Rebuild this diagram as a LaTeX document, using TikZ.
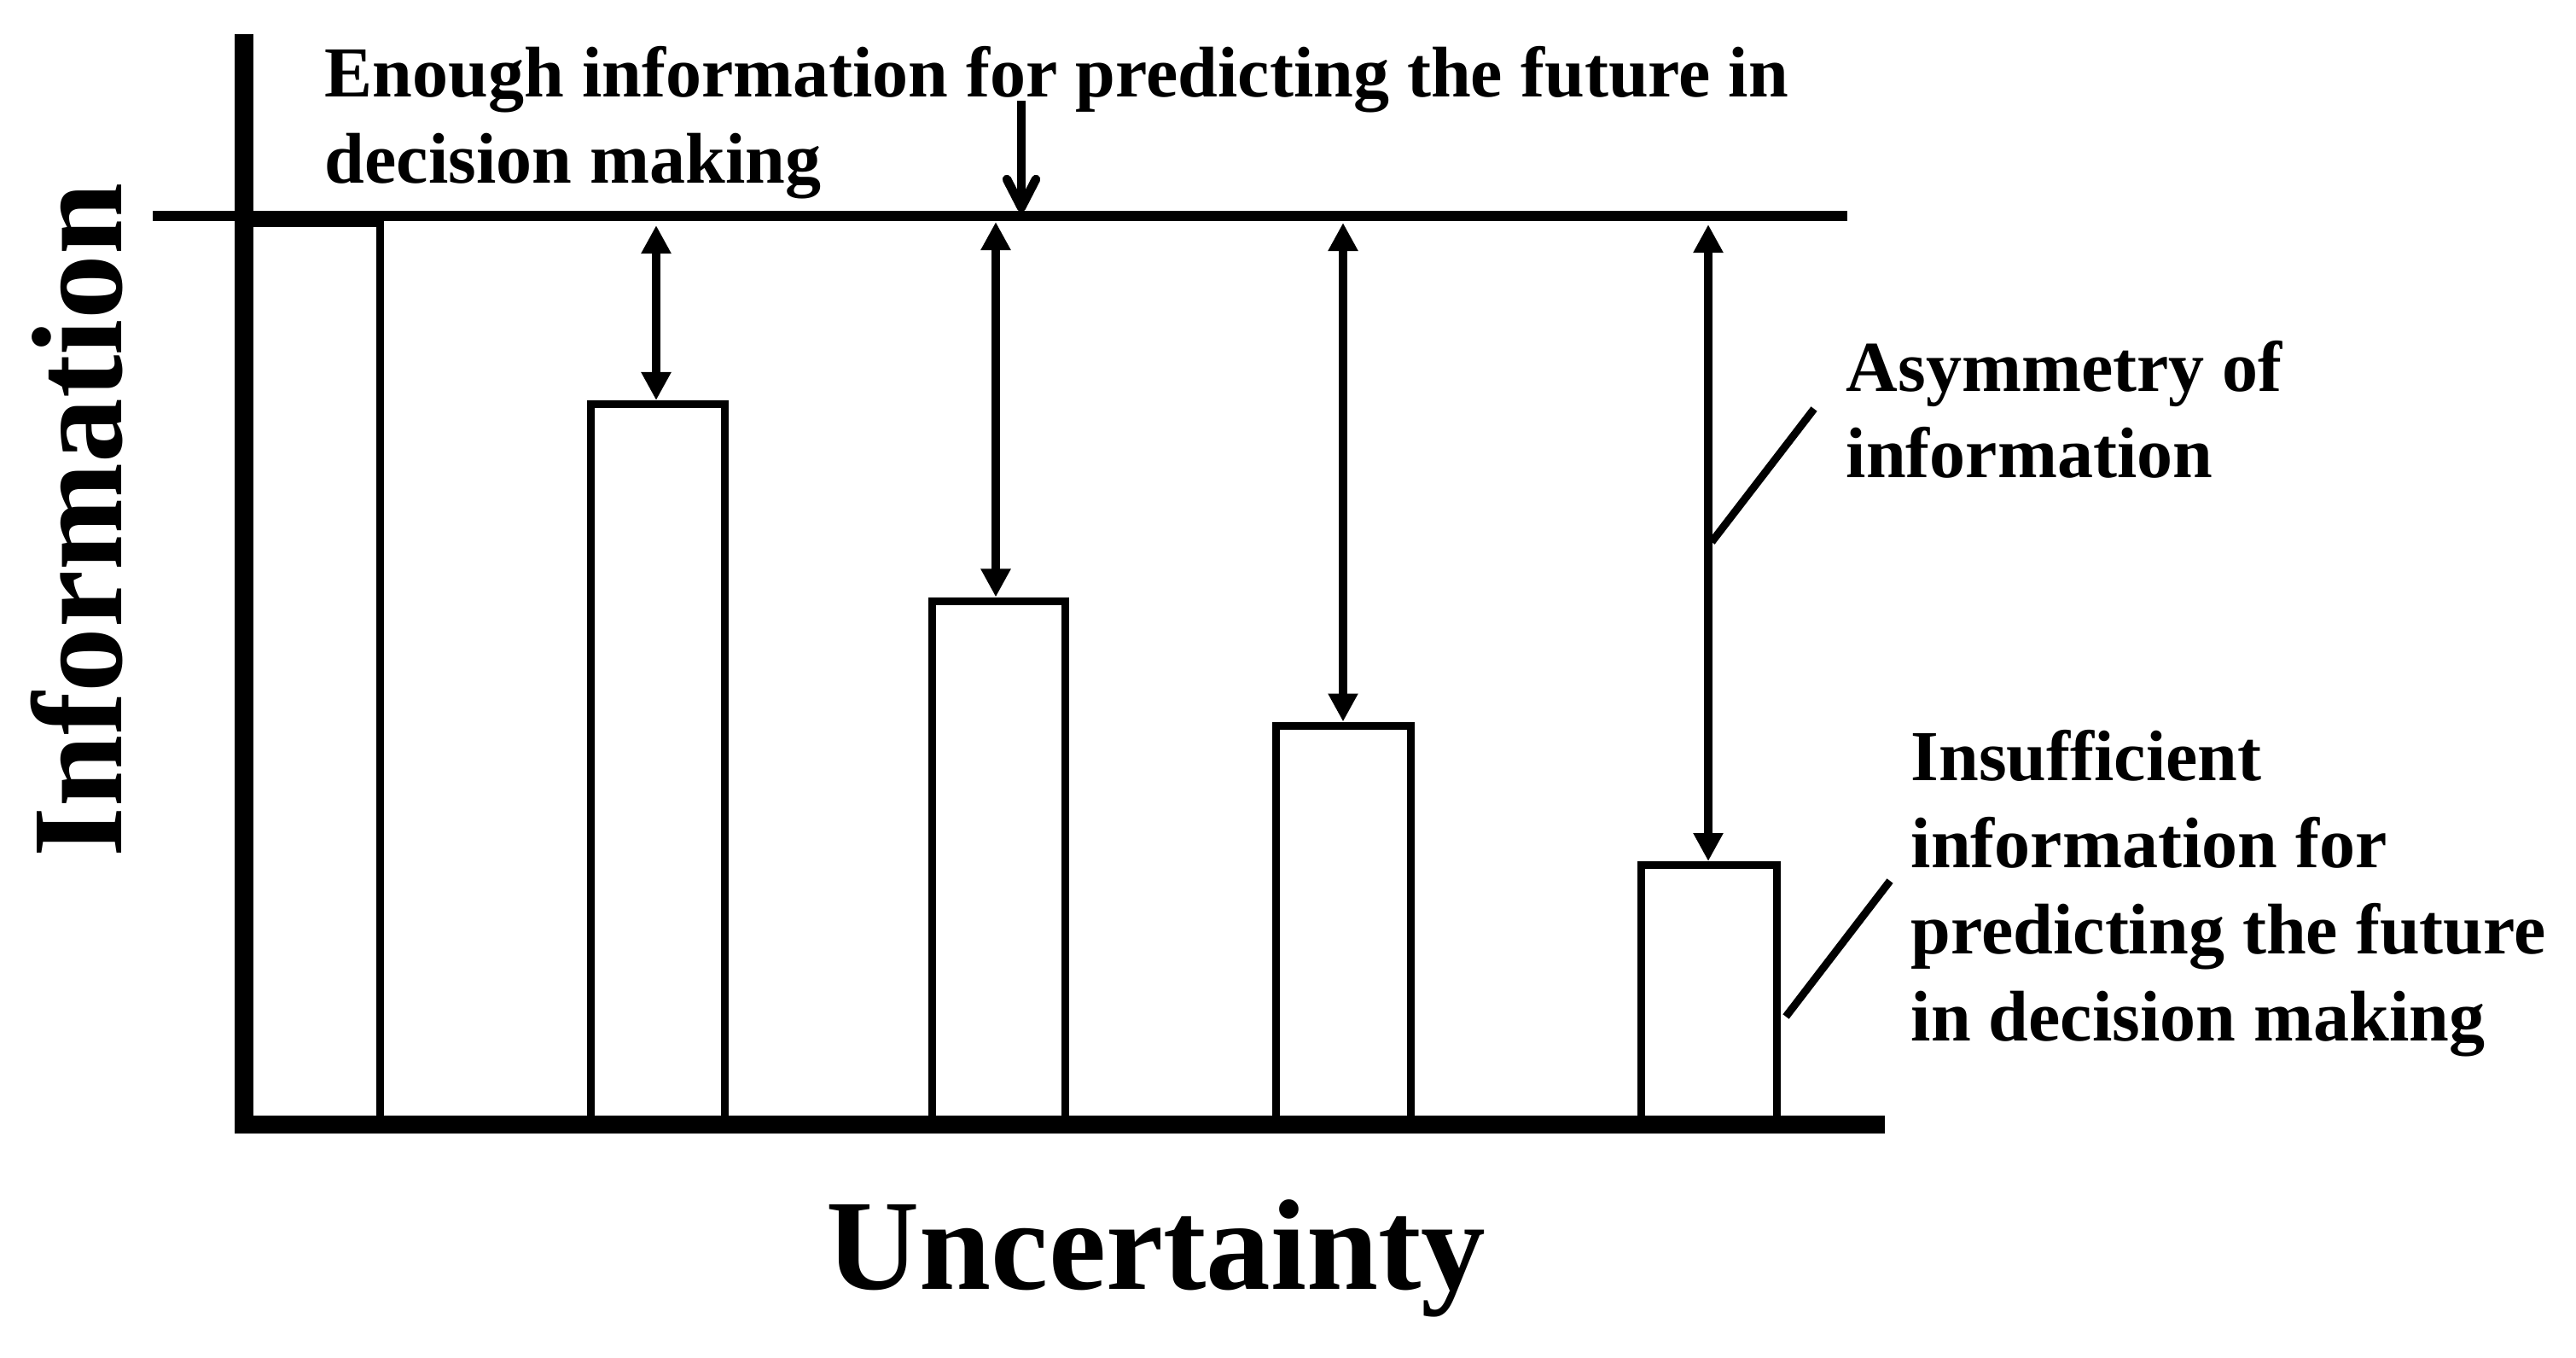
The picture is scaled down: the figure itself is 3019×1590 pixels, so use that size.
\documentclass[tikz,border=0pt]{standalone}
\usepackage{fontspec}
\setmainfont{Liberation Serif}
\usetikzlibrary{arrows.meta}
\tikzset{
  axisline/.style={line width=0.215cm},
  refline/.style={line width=0.12cm},
  barbox/.style={line width=0.09cm},
  dbl/.style={line width=0.105cm, {Triangle[width=0.33cm,length=0.33cm]}-{Triangle[width=0.33cm,length=0.33cm]}},
  pointer/.style={line width=0.09cm},
  lbl/.style={inner sep=0pt, anchor=base west, font=\fontsize{23.9}{29}\selectfont\bfseries},
  biglbl/.style={inner sep=0pt, anchor=base, font=\fontsize{43}{50}\selectfont\bfseries}
}
\begin{document}
\begin{tikzpicture}[x=0.01cm,y=-0.01cm]
\useasboundingbox (0,0) rectangle (3019,1590);
\fill[white] (0,0) rectangle (3019,1590);

% bars
\draw[barbox] (286,261) rectangle (445,1313);
\draw[barbox] (692,473.5) rectangle (849,1313);
\draw[barbox] (1092,704) rectangle (1248,1313);
\draw[barbox] (1495.5,850) rectangle (1653.5,1313);
\draw[barbox] (1923.5,1013.5) rectangle (2082,1313);

% reference line
\coordinate (refL) at (179,253);
\coordinate (refR) at (2165,253);
\draw[refline] (refL) -- (refR);

% axes
\coordinate (yTop) at (286,40);
\coordinate (yBot) at (286,1328);
\coordinate (xL) at (276,1317.5);
\coordinate (xR) at (2209,1317.5);
\draw[axisline] (yTop) -- (yBot);
\draw[axisline] (xL) -- (xR);

% asymmetry arrows
\coordinate (t2) at (769,264);  \coordinate (b2) at (769,469);
\coordinate (t3) at (1167,260); \coordinate (b3) at (1167,699.5);
\coordinate (t4) at (1574,261); \coordinate (b4) at (1574,845.5);
\coordinate (t5) at (2002,263); \coordinate (b5) at (2002,1009);
\draw[dbl] (t2) -- (b2);
\draw[dbl] (t3) -- (b3);
\draw[dbl] (t4) -- (b4);
\draw[dbl] (t5) -- (b5);

% open arrow pointing at reference line
\coordinate (dTop) at (1197,118);
\coordinate (dTip) at (1197,243);
\draw[line width=0.105cm] (dTop) -- (dTip);
\draw[line width=0.105cm, line cap=round, line join=round] (1180,210) -- (dTip) -- (1214,210);

% label pointers
\coordinate (aLow) at (2006,635);
\coordinate (aHigh) at (2126,479);
\draw[pointer] (aLow) -- (aHigh);
\coordinate (iLow) at (2093,1191);
\coordinate (iHigh) at (2215,1032);
\draw[pointer] (iLow) -- (iHigh);

% texts
\node[lbl] (enough) at (380,113) {\begin{tabular}[t]{@{}l@{}}Enough information for predicting the future in\\decision making\end{tabular}};
\node[lbl] (asym) at (2163,458) {\begin{tabular}[t]{@{}l@{}}Asymmetry of\\information\end{tabular}};
\node[lbl] (insuf) at (2239,914) {\begin{tabular}[t]{@{}l@{}}Insufficient\\information for\\predicting the future\\in decision making\end{tabular}};
\node[biglbl] (xlab) at (1355,1510) {Uncertainty};
\node[biglbl, rotate=90] (ylab) at (142,609.5) {Information};
\end{tikzpicture}
\end{document}
